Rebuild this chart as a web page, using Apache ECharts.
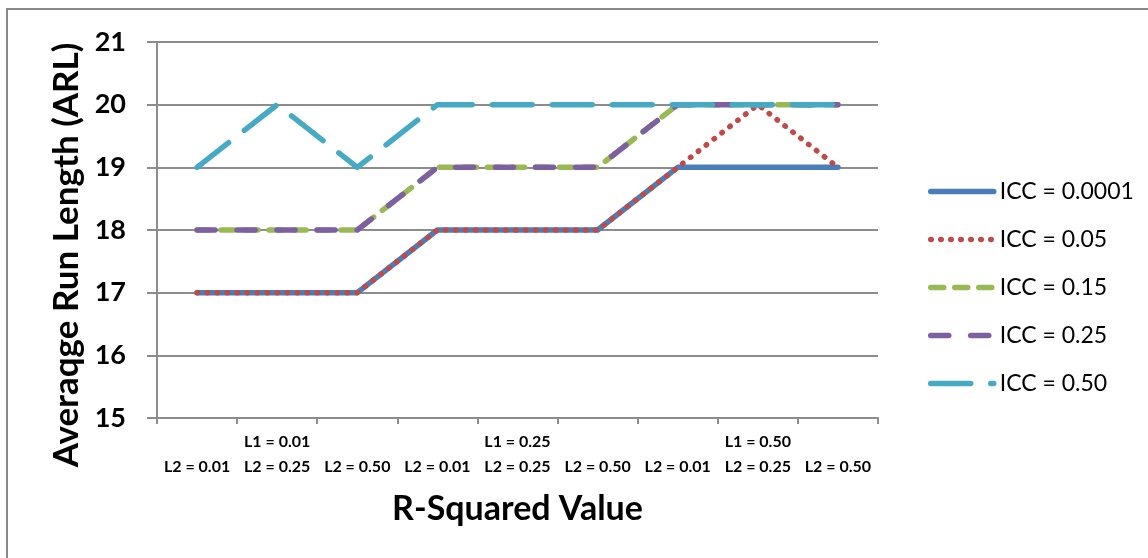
<!DOCTYPE html>
<html>
<head>
<meta charset="utf-8">
<script src="https://cdn.jsdelivr.net/npm/echarts@6/dist/echarts.min.js"></script>
<style>
  html, body { margin: 0; padding: 0; background: #fff; }
  #chart { width: 1148px; height: 558px; }
</style>
</head>
<body>
<div id="chart"></div>
<script>
// R-squared combinations (outer L1 group, inner L2 value)
const l1Labels = ['L1 = 0.01', 'L1 = 0.25', 'L1 = 0.50'];
const l2Labels = ['L2 = 0.01', 'L2 = 0.25', 'L2 = 0.50'];
const seriesNames = ['ICC = 0.0001', 'ICC = 0.05', 'ICC = 0.15', 'ICC = 0.25', 'ICC = 0.50'];

// Average run length for each ICC level
const icc0001 = [17, 17, 17, 18, 18, 18, 19, 19, 19];
const icc005  = [17, 17, 17, 18, 18, 18, 19, 20, 19];
const icc015  = [18, 18, 18, 19, 19, 19, 20, 20, 20];
const icc025  = [18, 18, 18, 19, 19, 19, 20, 20, 20];
const icc050  = [19, 20, 19, 20, 20, 20, 20, 20, 20];

const yTicks = [15, 16, 17, 18, 19, 20, 21];

// Build category list: each L1 group holds the three L2 values;
// the middle category of each group carries the L1 heading.
const categories = [];
l1Labels.forEach(function (l1) {
  l2Labels.forEach(function (l2, j) {
    categories.push((j === 1 ? l1 : '') + '\n' + l2);
  });
});

const values = [icc0001, icc005, icc015, icc025, icc050];
const colors = ['#4a7ebb', '#be4b48', '#98b954', '#7d60a0', '#46aac5'];
const dashes = ['solid', [0.5, 9.5], [13, 11], [18, 22], [40, 20]];
const LINE_W = 5.5;

const FONT = 'Lato, "Open Sans", sans-serif';

const chart = echarts.init(document.getElementById('chart'));
chart.setOption({
  backgroundColor: '#ffffff',
  animation: false,
  textStyle: { fontFamily: FONT },
  graphic: [{
    type: 'rect',
    shape: { x: 7, y: 9, width: 1300, height: 700 },
    style: { fill: 'none', stroke: '#8a8a8a', lineWidth: 2 },
    silent: true,
    z: -1
  }],
  grid: { left: 157, right: 270, top: 42, bottom: 140 },
  legend: {
    orient: 'vertical',
    left: 923,
    top: 175,
    itemWidth: 63,
    itemHeight: 14,
    itemGap: 25,
    itemStyle: { color: 'rgba(0,0,0,0)', borderWidth: 0 },
    lineStyle: { width: LINE_W, cap: 'round' },
    textStyle: { fontSize: 23, color: '#000', fontFamily: FONT, padding: [0, 0, 0, 1] },
    data: seriesNames
  },
  xAxis: {
    type: 'category',
    data: categories,
    boundaryGap: true,
    name: 'R-Squared Value',
    nameLocation: 'middle',
    nameGap: 74,
    nameTextStyle: { fontSize: 34, fontWeight: 'bold', color: '#000', fontFamily: FONT },
    axisLine: { lineStyle: { color: '#8c8c8c', width: 2 } },
    axisTick: { show: true, length: 6, lineStyle: { color: '#8c8c8c', width: 2 } },
    axisLabel: {
      interval: 0,
      margin: 11,
      fontSize: 16,
      fontWeight: 'bold',
      lineHeight: 25,
      color: '#000',
      fontFamily: FONT
    },
    splitLine: { show: false }
  },
  yAxis: {
    type: 'value',
    min: yTicks[0],
    max: yTicks[yTicks.length - 1],
    interval: 1,
    name: 'Averaqge Run Length (ARL)',
    nameLocation: 'middle',
    nameGap: 72,
    nameTextStyle: {
      fontSize: 35, fontWeight: 'bold', color: '#000', fontFamily: FONT,
      padding: [0, 50, 0, 0]
    },
    axisLine: { show: true, lineStyle: { color: '#8c8c8c', width: 2 } },
    axisTick: { show: true, length: 10, lineStyle: { color: '#8c8c8c', width: 2 } },
    axisLabel: { margin: 31, fontSize: 27, fontWeight: 'bold', color: '#000', fontFamily: FONT },
    splitLine: { show: true, lineStyle: { color: '#8c8c8c', width: 2 } }
  },
  series: values.map(function (data, i) {
    return {
      name: seriesNames[i],
      type: 'line',
      data: data,
      symbol: 'none',
      showSymbol: false,
      color: colors[i],
      lineStyle: {
        color: colors[i],
        width: LINE_W,
        type: dashes[i],
        cap: 'round',
        join: 'round'
      },
      z: 2 + i
    };
  })
});
</script>
</body>
</html>
